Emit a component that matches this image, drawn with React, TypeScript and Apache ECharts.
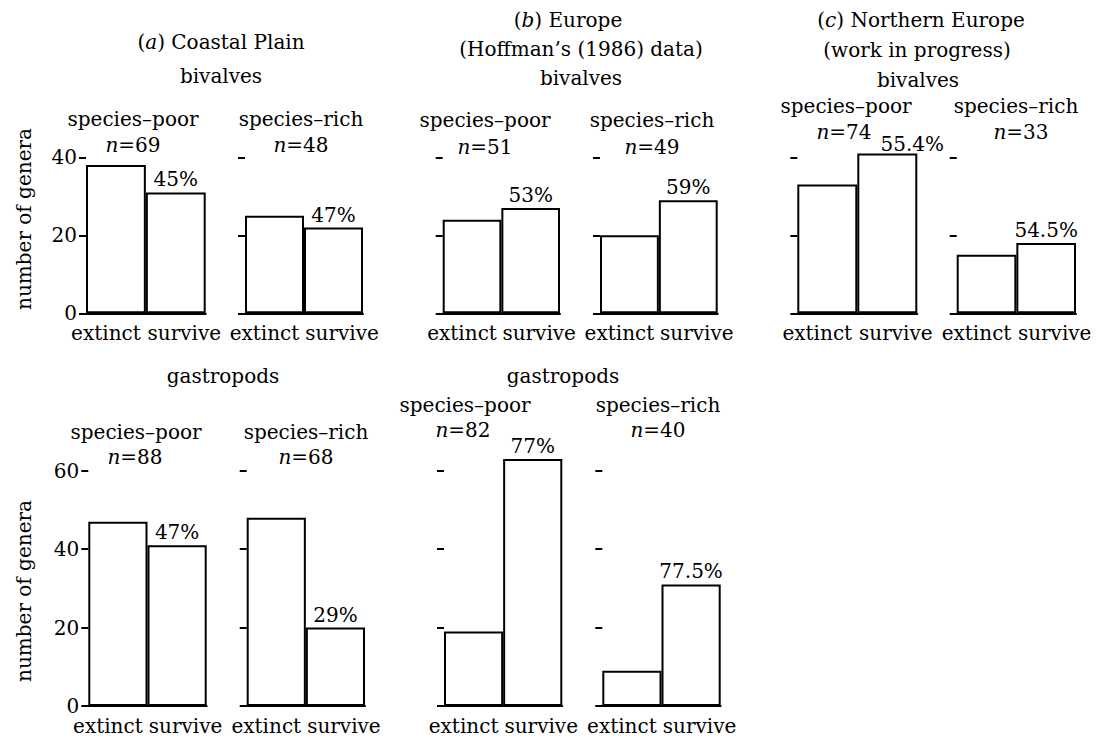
import React, { useEffect, useRef } from 'react';
import * as echarts from 'echarts';

// ---- data ----
const categories = ['extinct', 'survive'];
const groupNames = ['species–poor', 'species–rich'];

const topExtinct = [38, 25, 24, 20, 33, 15];
const topSurvive = [31, 22, 27, 29, 41, 18];
const topN = [69, 48, 51, 49, 74, 33];
const topPct = ['45%', '47%', '53%', '59%', '55.4%', '54.5%'];

const bottomExtinct = [47, 48, 19, 9];
const bottomSurvive = [41, 20, 63, 31];
const bottomN = [88, 68, 82, 40];
const bottomPct = ['47%', '29%', '77%', '77.5%'];

const topTicks = [0, 20, 40];
const bottomTicks = [0, 20, 40, 60];

// ---- layout ----
const FONT = 'DejaVu Serif';
const FS = 20;
const TOP_BASE = 313.3;
const TOP_PX = 3.9;
const TOP_MAX = 44;
const BOT_BASE = 706;
const BOT_PX = 3.92;
const BOT_MAX = 64;

const topPanels = [
  { l: 86, r: 205.7, gx: 133, gy: 119, nx: 133, ny: 145, off: [0, 0] },
  { l: 245, r: 363, gx: 301, gy: 119, nx: 301, ny: 145, off: [0, 0] },
  { l: 442.7, r: 560, gx: 485, gy: 120, nx: 485, ny: 147, off: [0, 0] },
  { l: 600, r: 717.7, gx: 652, gy: 120, nx: 652, ny: 147, off: [0, 0] },
  { l: 797.3, r: 917.3, gx: 846, gy: 106, nx: 844, ny: 132, off: [25, 4] },
  { l: 956.7, r: 1076, gx: 1016, gy: 106, nx: 1021, ny: 132, off: [0, 0] },
];
const bottomPanels = [
  { l: 88.3, r: 206.7, gx: 136, gy: 432, nx: 135, ny: 457, off: [0, 0] },
  { l: 246.7, r: 365, gx: 306, gy: 432, nx: 306, ny: 457, off: [0, 0] },
  { l: 444, r: 562.3, gx: 465, gy: 405, nx: 463, ny: 430, off: [0, 0] },
  { l: 602.3, r: 720.7, gx: 658, gy: 405, nx: 658, ny: 430, off: [0, 0] },
];

const headings = [
  { t: '({i|a}) Coastal Plain', x: 221, y: 42 },
  { t: 'bivalves', x: 221, y: 76 },
  { t: '({i|b}) Europe', x: 568, y: 20 },
  { t: '(Hoffman’s (1986) data)', x: 581, y: 49 },
  { t: 'bivalves', x: 581, y: 78 },
  { t: '({i|c}) Northern Europe', x: 921, y: 20 },
  { t: '(work in progress)', x: 917, y: 50 },
  { t: 'bivalves', x: 918, y: 80 },
  { t: 'gastropods', x: 223, y: 376 },
  { t: 'gastropods', x: 563, y: 376 },
];

const richItalic = {
  i: { fontStyle: 'italic', fontFamily: FONT, fontSize: FS, fill: '#000' },
};

function textEl(text: string, x: number, y: number, rotation = 0) {
  return {
    type: 'text',
    x,
    y,
    rotation,
    silent: true,
    style: {
      text,
      fontFamily: FONT,
      fontSize: FS,
      fill: '#000',
      align: 'center',
      verticalAlign: 'middle',
      rich: richItalic,
    },
  };
}

export default function App() {
  const ref = useRef<HTMLDivElement>(null);

  useEffect(() => {
    if (!ref.current) return;
    const chart = echarts.init(ref.current, undefined, { renderer: 'svg' });

    const grids: any[] = [];
    const xAxes: any[] = [];
    const yAxes: any[] = [];
    const series: any[] = [];
    const graphics: any[] = [];

    const addPanel = (
      p: any,
      idx: number,
      row: 'top' | 'bottom',
      ext: number,
      surv: number,
      n: number,
      pct: string,
      group: string,
      first: boolean
    ) => {
      const base = row === 'top' ? TOP_BASE : BOT_BASE;
      const px = row === 'top' ? TOP_PX : BOT_PX;
      const max = row === 'top' ? TOP_MAX : BOT_MAX;
      const ticks = row === 'top' ? topTicks : bottomTicks;
      const h = max * px;
      grids.push({ left: p.l, top: base - h, width: p.r - p.l, height: h });
      xAxes.push({
        gridIndex: idx,
        type: 'category',
        data: categories,
        axisLine: { show: true, lineStyle: { color: '#000', width: 2 } },
        axisTick: { show: false },
        axisLabel: {
          interval: 0,
          margin: 11,
          formatter: (v: string) => (v === 'extinct' ? '{e|' + v + '}' : '{s|' + v + '}'),
          rich: {
            e: { fontFamily: FONT, fontSize: FS, lineHeight: 18, color: '#000', padding: [0, 20, 0, 0] },
            s: { fontFamily: FONT, fontSize: FS, lineHeight: 18, color: '#000', padding: [0, 0, 0, 17] },
          },
        },
      });
      yAxes.push({
        gridIndex: idx,
        type: 'value',
        min: 0,
        max,
        interval: 20,
        splitLine: { show: false },
        axisLine: { show: false },
        axisTick: {
          show: true,
          length: 7,
          lineStyle: { color: '#000', width: 2 },
          customValues: ticks,
        },
        axisLabel: {
          show: first,
          customValues: ticks,
          margin: 9,
          lineHeight: 16,
          fontFamily: FONT,
          fontSize: FS,
          color: '#000',
        },
      });
      series.push({
        type: 'bar',
        xAxisIndex: idx,
        yAxisIndex: idx,
        barCategoryGap: '0%',
        silent: true,
        itemStyle: { color: '#fff', borderColor: '#000', borderWidth: 2 },
        label: {
          show: false,
          fontFamily: FONT,
          fontSize: FS,
          color: '#000',
        },
        data: [
          ext,
          {
            value: surv,
            label: {
              show: true,
              position: 'top',
              distance: 3,
              offset: p.off,
              formatter: pct,
            },
          },
        ],
      });
      graphics.push(textEl(group, p.gx, p.gy));
      graphics.push(textEl('{i|n}=' + n, p.nx, p.ny));
    };

    topPanels.forEach((p, i) =>
      addPanel(p, i, 'top', topExtinct[i], topSurvive[i], topN[i], topPct[i], groupNames[i % 2], i === 0)
    );
    bottomPanels.forEach((p, i) =>
      addPanel(
        p,
        topPanels.length + i,
        'bottom',
        bottomExtinct[i],
        bottomSurvive[i],
        bottomN[i],
        bottomPct[i],
        groupNames[i % 2],
        i === 0
      )
    );

    headings.forEach((h) => graphics.push(textEl(h.t, h.x, h.y)));
    graphics.push(textEl('number of genera', 24, 219, Math.PI / 2));
    graphics.push(textEl('number of genera', 24, 591, Math.PI / 2));

    chart.setOption({
      animation: false,
      backgroundColor: '#fff',
      grid: grids,
      xAxis: xAxes,
      yAxis: yAxes,
      series,
      graphic: { elements: graphics },
    });

    return () => chart.dispose();
  }, []);

  return (
    <div
      ref={ref}
      style={{ position: 'fixed', left: 0, top: 0, width: 1102, height: 741, background: '#fff' }}
    />
  );
}
